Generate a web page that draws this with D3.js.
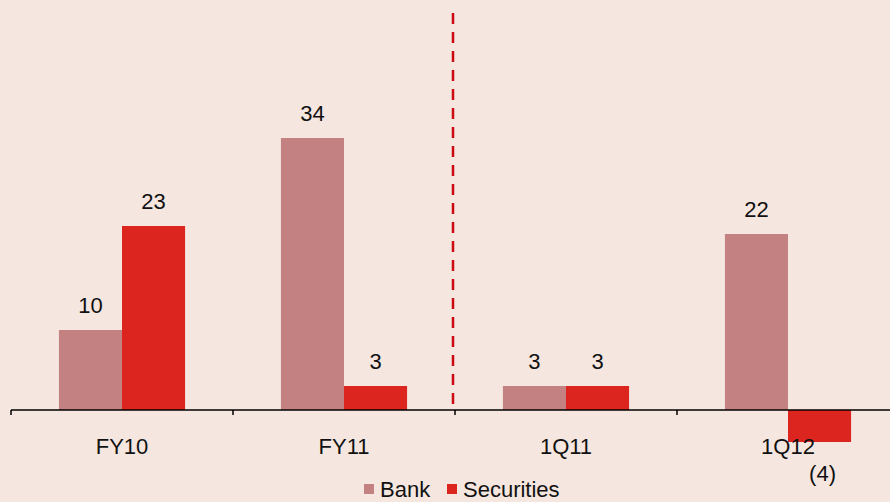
<!DOCTYPE html>
<html>
<head>
<meta charset="utf-8">
<script src="https://cdn.jsdelivr.net/npm/d3@7"></script>
<style>
  html, body { margin: 0; padding: 0; background: #F5E6DF; }
  svg { display: block; }
  text { font-family: "Liberation Sans", Arial, sans-serif; fill: #111; }
</style>
</head>
<body>
<svg id="chart" width="890" height="502"></svg>
<script>
// Data
const categories = ["FY10", "FY11", "1Q11", "1Q12"];
const seriesNames = ["Bank", "Securities"];
const bankValues = [10, 34, 3, 22];
const securitiesValues = [23, 3, 3, -4];
const valueLabels = [["10", "34", "3", "22"], ["23", "3", "3", "(4)"]];
const seriesColors = ["#C38181", "#DD2520"];

const svg = d3.select("#chart");
const W = 890, H = 502;

svg.append("rect").attr("width", W).attr("height", H).attr("fill", "#F5E6DF");

const x0 = d3.scaleBand().domain(categories).range([11, 899]).paddingInner(0).paddingOuter(0);
const x1 = d3.scaleBand().domain(seriesNames).range([0, x0.bandwidth()]).paddingInner(0).paddingOuter(0.76);
const y = d3.scaleLinear().domain([-4, 34]).range([442, 138]);

const rows = categories.map((c, i) => ({
  cat: c,
  vals: [
    { s: "Bank", v: bankValues[i], label: valueLabels[0][i], color: seriesColors[0] },
    { s: "Securities", v: securitiesValues[i], label: valueLabels[1][i], color: seriesColors[1] }
  ]
}));

const groups = svg.append("g").selectAll("g")
  .data(rows).join("g")
  .attr("transform", d => `translate(${x0(d.cat)},0)`);

groups.selectAll("rect")
  .data(d => d.vals).join("rect")
  .attr("x", d => x1(d.s))
  .attr("width", x1.bandwidth())
  .attr("y", d => y(Math.max(0, d.v)))
  .attr("height", d => Math.abs(y(d.v) - y(0)))
  .attr("fill", d => d.color);

groups.selectAll("text.val")
  .data(d => d.vals).join("text")
  .attr("class", "val")
  .attr("x", d => x1(d.s) + x1.bandwidth() / 2 + (d.v < 0 ? 3 : 0))
  .attr("y", d => d.v >= 0 ? y(d.v) - 17 : y(d.v) + 39)
  .attr("text-anchor", "middle")
  .attr("font-size", 22)
  .text(d => d.label);

// Category axis along zero
const axisG = svg.append("g").attr("transform", `translate(0,${y(0)})`);
axisG.append("line").attr("x1", 11).attr("x2", W).attr("y1", 0).attr("y2", 0)
  .attr("stroke", "#000").attr("stroke-width", 1.5);
const tickXs = categories.map(c => x0(c)).concat([x0.range()[1]]);
axisG.selectAll("line.tick").data(tickXs).join("line")
  .attr("class", "tick")
  .attr("x1", d => d).attr("x2", d => d).attr("y1", 0).attr("y2", 5)
  .attr("stroke", "#000").attr("stroke-width", 1.5);
axisG.selectAll("text.cat").data(categories).join("text")
  .attr("class", "cat")
  .attr("x", d => x0(d) + x0.bandwidth() / 2)
  .attr("y", 44)
  .attr("text-anchor", "middle")
  .attr("font-size", 22)
  .text(d => d);

// Divider between annual and quarterly figures
const divX = x0("1Q11") - 2;
svg.append("line")
  .attr("x1", divX).attr("x2", divX).attr("y1", 13).attr("y2", y(0))
  .attr("stroke", "#CC0A14").attr("stroke-width", 2.5)
  .attr("stroke-dasharray", "11,8");

// Legend
const legend = svg.append("g");
const legendItems = [
  { name: "Bank", color: seriesColors[0], x: 364 },
  { name: "Securities", color: seriesColors[1], x: 447 }
];
legend.selectAll("rect").data(legendItems).join("rect")
  .attr("x", d => d.x).attr("y", 484).attr("width", 10).attr("height", 10)
  .attr("fill", d => d.color);
legend.selectAll("text").data(legendItems).join("text")
  .attr("x", d => d.x + 16).attr("y", 497)
  .attr("font-size", 22)
  .text(d => d.name);
</script>
</body>
</html>
